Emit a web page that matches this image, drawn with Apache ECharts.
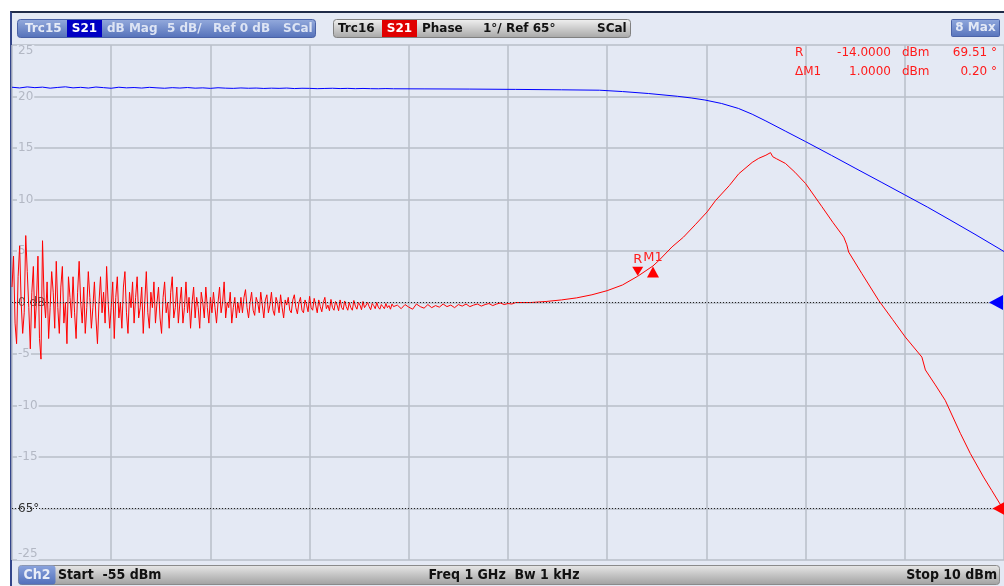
<!DOCTYPE html>
<html><head><meta charset="utf-8">
<script src="https://cdn.jsdelivr.net/npm/echarts@6/dist/echarts.min.js"></script>
<style>
html,body{margin:0;padding:0;background:#fff;}
#panel{position:absolute;left:10px;top:11px;width:994px;height:575px;background:#e4e9f4;border-top:2px solid #1f2b48;border-left:2px solid #34468a;box-sizing:border-box;}
#c{position:absolute;left:0;top:0;width:1004px;height:586px;}
</style>
</head><body>
<div id="panel"></div>
<div id="c"></div>
<script>
// ---------------- DATA ----------------
// Sweep: input power (dBm)
const sweepStart = -55;   // Start -55 dBm
const sweepStop = 10;     // Stop 10 dBm
// Trc15 S21 dB Mag, 5 dB/div, Ref 0 dB
const magTicks = [-25, -20, -15, -10, -5, 0, 5, 10, 15, 20, 25];
// Trc16 S21 Phase, 1 deg/div, Ref 65 deg (on the -20 dB line)
const phaseTicks = [64, 65, 66, 67, 68, 69, 70, 71, 72, 73, 74];

// Trc15 gain (dB): low-power part, one reading every 0.5 dBm from -55 dBm
const gainLowStep = 0.5;
const gainLow = [
  20.90, 20.83, 20.93, 20.86, 20.91, 20.81, 20.88, 20.94, 20.84, 20.89,
  20.82, 20.92, 20.86, 20.80, 20.90, 20.84, 20.87, 20.82, 20.89, 20.84,
  20.80, 20.86, 20.82, 20.87, 20.81, 20.84, 20.79, 20.85, 20.81, 20.79,
  20.83, 20.80, 20.82, 20.78, 20.81, 20.79, 20.82, 20.77, 20.80, 20.79,
  20.76, 20.78, 20.80, 20.77, 20.79, 20.76, 20.78, 20.76, 20.75, 20.77,
  20.75
];
// Trc15 gain (dB) in compression: [power dBm, gain dB]
const gainHigh = [
  [-28, 20.74], [-25, 20.72], [-22, 20.69], [-19, 20.65], [-16.5, 20.61],
  [-15, 20.48], [-13.3, 20.29], [-11.4, 20.02], [-10.5, 19.86], [-9.6, 19.66],
  [-8.5, 19.32], [-7.4, 18.84], [-6.5, 18.28], [-5.6, 17.62], [-4.3, 16.62],
  [-3.0, 15.62], [-1.3, 14.28], [0.3, 13.0], [2.0, 11.65], [3.5, 10.45],
  [5.0, 9.25], [6.4, 8.07], [8.1, 6.62], [10, 4.95]
];

// Trc16 phase (deg): noisy part A, every 0.1 dBm from -55 dBm
const phaseAStep = 0.1;
const phaseA = [
  69.3, 69.9, 68.6, 68.2, 69.5, 70.1, 69.0, 68.4, 68.8, 70.3,
  69.6, 68.9, 68.1, 69.2, 69.7, 68.5, 69.0, 69.9, 68.3, 67.9,
  70.2, 69.1, 68.7, 69.4, 68.3, 68.9, 69.6, 69.2, 68.5, 69.8,
  68.9, 68.4, 69.3, 69.7, 68.6, 69.0, 68.2, 69.5, 69.1, 68.7,
  69.5, 68.8, 68.3, 69.2, 69.8, 69.0, 68.6, 69.3, 68.4, 68.9,
  69.6, 69.1, 68.5, 68.9, 69.4, 68.7, 68.2, 69.0, 69.5, 68.8,
  69.2, 68.6, 69.7, 69.0, 68.5, 68.9, 69.4, 68.3, 69.1, 69.5,
  68.7, 69.0, 68.5, 69.3, 69.6, 68.8, 68.4, 69.2, 68.9, 69.4,
  68.6, 69.1, 69.5, 68.7, 68.9, 69.3, 68.4, 69.0, 69.6, 68.8,
  68.5, 69.2, 68.9, 69.4, 68.6, 69.0, 69.3, 68.7, 68.4, 69.1,
  69.4, 68.8, 69.0, 68.5, 69.2, 69.5, 68.7, 68.9, 69.3, 68.6,
  69.0, 69.3, 68.6, 68.9, 69.4, 68.8, 69.1, 68.5, 69.0, 69.3,
  68.7, 69.1, 68.9, 68.5, 69.2, 69.0, 68.7, 69.3, 68.9, 68.6,
  69.1, 68.8, 69.2, 68.9, 68.6, 69.0, 69.3, 68.8, 69.0, 69.4,
  68.7, 69.0, 68.9, 69.2, 68.6, 68.9, 69.1, 68.7, 69.0, 68.8,
  69.1
];
// Trc16 phase (deg): noisy part B, every 0.1 dBm from -39.9 dBm
const phaseBStart = -39.9;
const phaseBStep = 0.1;
const phaseB = [
  68.8, 69.1, 69.25, 68.9, 68.7, 69.0, 69.2, 68.85, 68.75, 69.1,
  69.0, 68.8, 69.2, 68.95, 68.7, 69.05, 69.15, 68.8, 68.95, 69.2,
  68.85, 68.75, 69.1, 69.0, 68.8, 69.15, 68.9, 68.7, 69.05, 68.95,
  69.1, 68.85, 68.8, 69.05, 69.15, 68.9, 68.78, 69.0, 69.1, 68.85,
  68.8, 69.05, 68.95, 68.82, 69.12, 68.9, 68.85, 69.08, 68.95, 68.8,
  69.05, 68.92, 68.82, 69.0, 69.1, 68.88, 68.95, 68.84, 69.06, 68.9,
  68.85, 69.02, 68.95, 68.84, 69.05, 68.9, 68.86, 69.03, 68.92, 68.85,
  69.0, 68.9, 68.85, 69.04, 68.93, 68.87, 69.0, 68.95, 68.86, 69.02,
  68.9, 68.88, 69.0, 68.92, 68.86, 68.98, 68.94, 68.88, 69.0, 68.91,
  68.87, 68.96, 68.92, 68.88, 68.98, 68.9, 68.94, 68.87, 68.97, 68.92
];
// Trc16 phase (deg): quiet part C, every 0.25 dBm from -29.75 dBm
const phaseCStart = -29.75;
const phaseCStep = 0.25;
const phaseC = [
  68.95, 68.88, 68.96, 68.91, 68.87, 68.97, 68.92, 68.89, 68.96, 68.9,
  68.94, 68.91, 68.97, 68.92, 68.95, 68.9, 68.96, 68.93, 68.97, 68.92,
  68.95, 68.97, 68.93, 68.96, 68.98, 68.94, 68.97, 68.99, 68.96, 68.98,
  68.97, 69.0
];
// Trc16 phase (deg) at high power: [power dBm, phase deg]
const phaseHigh = [
  [-21, 69.0], [-20, 69.02], [-19, 69.05], [-18, 69.09], [-17, 69.15],
  [-16, 69.23], [-15, 69.34], [-14, 69.51], [-13, 69.71], [-12.6, 69.82],
  [-11.75, 70.08], [-11, 70.27], [-10.2, 70.52], [-9.45, 70.76], [-8.9, 70.98],
  [-8, 71.27], [-7.38, 71.5], [-6.5, 71.72], [-6.07, 71.8], [-5.6, 71.86],
  [-5.3, 71.91], [-5.15, 71.83], [-4.9, 71.79], [-4.32, 71.7], [-3.7, 71.53],
  [-3.0, 71.31], [-1.93, 70.86], [-1.2, 70.55], [-0.5, 70.27], [-0.3, 70.12],
  [-0.18, 69.98], [0.69, 69.56], [1.79, 69.04], [2.7, 68.67], [3.53, 68.33],
  [4.62, 67.94], [4.85, 67.69], [5.5, 67.4], [6.15, 67.1], [7.14, 66.46],
  [7.79, 66.07], [8.66, 65.61], [9.2, 65.35], [9.86, 65.03], [10, 64.98]
];

// Markers on Trc16
const markerR = [-14, 69.51];
const markerM1 = [-13, 69.71];
const magRef = 0;      // Ref 0 dB
const phaseRef = 65;   // Ref 65 deg

// Header / footer texts
const trc15Text = ['Trc15', 'S21', 'dB Mag', '5 dB/', 'Ref 0 dB', 'SCal'];
const trc16Text = ['Trc16', 'S21', 'Phase', '1°/ Ref 65°', 'SCal'];
const maxText = '8 Max';
const footerText = ['Ch2', 'Start  -55 dBm', 'Freq 1 GHz  Bw 1 kHz', 'Stop 10 dBm'];

// ---------------- BUILD ----------------
const r2 = v => Math.round(v * 1000) / 1000;
const blueData = gainLow.map((v, i) => [r2(sweepStart + i * gainLowStep), v]).concat(gainHigh);
const redData = phaseA.map((v, i) => [r2(sweepStart + i * phaseAStep), v])
  .concat(phaseB.map((v, i) => [r2(phaseBStart + i * phaseBStep), v]))
  .concat(phaseC.map((v, i) => [r2(phaseCStart + i * phaseCStep), v]))
  .concat(phaseHigh);

const G = echarts.graphic;
function grad(a, b) { return new G.LinearGradient(0, 0, 0, 1, [{offset: 0, color: a}, {offset: 1, color: b}]); }
const FB = 'bold 12px "DejaVu Sans", Verdana, sans-serif';
const FN = '12px "DejaVu Sans", Verdana, sans-serif';
const FC = 'bold 14px "DejaVu Sans Condensed", "Liberation Sans Narrow", "Arial Narrow", sans-serif';
function txt(x, y, s, fill, font, align) {
  return {type: 'text', x: x, y: y, z: 100, silent: true,
    style: {text: s, fill: fill, font: font, align: align || 'left', verticalAlign: 'middle'}};
}
function box(x, y, w, h, fill, stroke, r) {
  return {type: 'rect', z: 99, silent: true, shape: {x: x, y: y, width: w, height: h, r: r || 0},
    style: {fill: fill, stroke: stroke || null, lineWidth: 1}};
}
const RED = '#ff1a1a';
const dR = [markerM1[0] - markerR[0], markerM1[1] - markerR[1]];

const graphics = [
  box(17.5, 19.5, 298, 18, grad('#95abdd', '#5370b9'), '#4a62a6', 3),
  txt(25, 28.5, trc15Text[0], '#e6ebf7', FB),
  box(67, 20, 35, 17, '#0000c4'),
  txt(84.5, 28.5, trc15Text[1], '#ffffff', FB, 'center'),
  txt(107, 28.5, trc15Text[2], '#dde4f4', FB),
  txt(167, 28.5, trc15Text[3], '#dde4f4', FB),
  txt(213, 28.5, trc15Text[4], '#dde4f4', FB),
  txt(283, 28.5, trc15Text[5], '#dde4f4', FB),

  box(333.5, 19.5, 297, 18, grad('#f2f2f2', '#a6a6a6'), '#808080', 3),
  txt(338, 28.5, trc16Text[0], '#111111', FB),
  box(382, 20, 35, 17, '#e00000'),
  txt(399.5, 28.5, trc16Text[1], '#ffffff', FB, 'center'),
  txt(422, 28.5, trc16Text[2], '#111111', FB),
  txt(483, 28.5, trc16Text[3], '#111111', FB),
  txt(597, 28.5, trc16Text[4], '#111111', FB),

  box(951.5, 19.5, 48, 17, grad('#90a8dd', '#5874bc'), '#4b63a8', 1),
  txt(975.5, 28, maxText, '#e3e9f6', FB, 'center'),

  txt(795, 53, 'R', RED, FN),
  txt(891, 53, markerR[0].toFixed(4), RED, FN, 'right'),
  txt(902, 53, 'dBm', RED, FN),
  txt(997, 53, markerR[1].toFixed(2) + ' °', RED, FN, 'right'),
  txt(795, 72, 'ΔM1', RED, FN),
  txt(891, 72, dR[0].toFixed(4), RED, FN, 'right'),
  txt(902, 72, 'dBm', RED, FN),
  txt(997, 72, dR[1].toFixed(2) + ' °', RED, FN, 'right'),

  box(18.5, 565.5, 981, 19, grad('#e8e8e8', '#a0a0a0'), '#8a8a8a', 3),
  box(18.5, 565.5, 37, 19, grad('#8aa3dd', '#5170bb'), null, 3),
  txt(37, 575, footerText[0], '#e8edf8', FC, 'center'),
  txt(58, 575, footerText[1], '#111111', FC),
  txt(504, 575, footerText[2], '#111111', FC, 'center'),
  txt(997, 575, footerText[3], '#111111', FC, 'right')
];

const chart = echarts.init(document.getElementById('c'), null, {renderer: 'canvas'});
chart.setOption({
  animation: false,
  backgroundColor: 'transparent',
  grid: {left: 12, top: 45, width: 993, height: 515, containLabel: false},
  xAxis: [
    {type: 'value', min: sweepStart, max: sweepStop, show: false},
    {type: 'value', min: 0, max: 10, interval: 1, position: 'top',
     axisLine: {show: false}, axisTick: {show: false}, axisLabel: {show: false},
     splitLine: {show: true, lineStyle: {color: '#b9bec9', width: 1.5}}}
  ],
  yAxis: [
    {type: 'value', min: magTicks[0], max: magTicks[magTicks.length - 1], interval: magTicks[1] - magTicks[0],
     axisLine: {show: false}, axisTick: {show: false},
     splitLine: {show: true, lineStyle: {color: '#b9bec9', width: 1.5}},
     axisLabel: {inside: true, margin: 5, color: '#b3b8c4', fontSize: 12, fontFamily: 'DejaVu Sans',
       backgroundColor: '#e4e9f4', padding: [0, 1],
       verticalAlignMinLabel: 'bottom', verticalAlignMaxLabel: 'top',
       formatter: function (v) {
         if (v === magRef) return '{ref|0 dB}';
         if (v === -20) return '{ref2|' + phaseRef + '°}';
         return String(v);
       },
       rich: {
         ref: {color: '#5a5a5a', fontSize: 12, fontFamily: 'DejaVu Sans'},
         ref2: {color: '#333333', fontSize: 12, fontFamily: 'DejaVu Sans'}
       }}},
    {type: 'value', min: phaseTicks[0], max: phaseTicks[phaseTicks.length - 1], interval: 1, show: false,
     splitLine: {show: false}}
  ],
  graphic: graphics,
  series: [
    {name: 'Trc15 S21 dB Mag', type: 'line', xAxisIndex: 0, yAxisIndex: 0, data: blueData,
     showSymbol: false, symbol: 'none', lineStyle: {color: '#0000ff', width: 1}, itemStyle: {color: '#0000ff'},
     z: 3, silent: true,
     markLine: {silent: true, symbol: ['none', 'none'], label: {show: false},
       lineStyle: {type: [1, 2], color: '#222222', width: 1},
       data: [{yAxis: magRef}]},
     markPoint: {silent: true, data: [
       {coord: [sweepStop, magRef], symbol: 'path://M0,1L2,0L2,2Z', symbolSize: [14, 15], symbolOffset: [-8, 0],
        itemStyle: {color: '#0000ff'}, label: {show: false}}
     ]}},
    {name: 'Trc16 S21 Phase', type: 'line', xAxisIndex: 0, yAxisIndex: 1, data: redData,
     showSymbol: false, symbol: 'none', lineStyle: {color: '#ff0000', width: 1}, itemStyle: {color: '#ff0000'},
     z: 4, silent: true,
     markLine: {silent: true, symbol: ['none', 'none'], label: {show: false},
       lineStyle: {type: [1, 2], color: '#222222', width: 1},
       data: [{yAxis: phaseRef}]},
     markPoint: {silent: true, data: [
       {coord: [sweepStop, phaseRef], symbol: 'path://M0,1L2,0L2,2Z', symbolSize: [13, 14], symbolOffset: [-5, 0],
        itemStyle: {color: '#ff0000'}, label: {show: false}},
       {coord: markerR, symbol: 'path://M0,0L2,0L1,1.6Z', symbolSize: [11, 9], symbolOffset: [0, -5],
        itemStyle: {color: '#ff0000'},
        label: {show: true, formatter: 'R', position: 'top', distance: 1, color: '#ff2020', fontSize: 13, fontFamily: 'DejaVu Sans'}},
       {coord: markerM1, symbol: 'path://M1,0L2,1.7L0,1.7Z', symbolSize: [12, 11], symbolOffset: [0, 6],
        itemStyle: {color: '#ff0000'},
        label: {show: true, formatter: 'M1', position: 'top', distance: 2, color: '#ff2020', fontSize: 13, fontFamily: 'DejaVu Sans'}}
     ]}}
  ]
});
</script>
</body></html>
